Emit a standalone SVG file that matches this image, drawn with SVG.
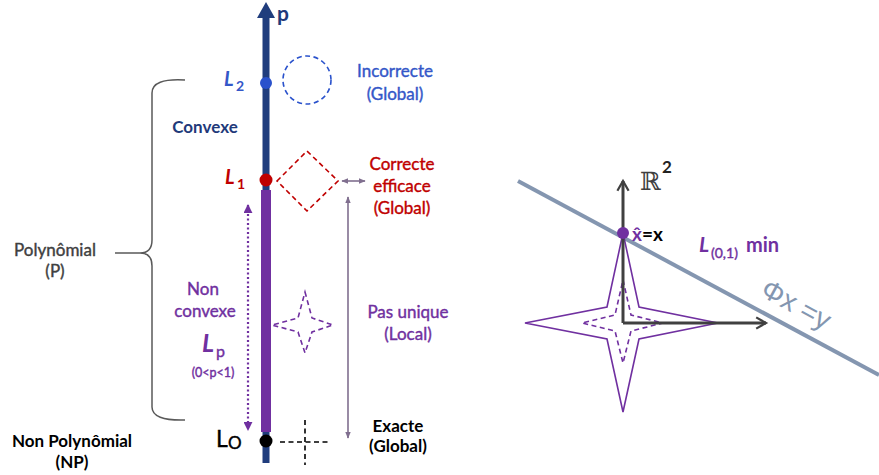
<svg xmlns="http://www.w3.org/2000/svg" width="879" height="475" viewBox="0 0 879 475">
<defs>
<style>
svg{font-family:Lato,"Open Sans","Liberation Sans",sans-serif;font-size:17px}
.b{font-weight:bold}
.c{text-anchor:middle}
.m{stroke:currentColor;stroke-width:0.4px}
.navy{fill:#1f3a7a;color:#1f3a7a}
.blue{fill:#3457c8;color:#3457c8}
.red{fill:#c00000;color:#c00000}
.pur{fill:#7030a0;color:#7030a0}
.gray{fill:#404040;color:#404040}
.dash{fill:none;stroke-width:1.6;stroke-dasharray:5,3.5}
</style>
<marker id="ga" viewBox="0 0 10 10" refX="9" refY="5" markerWidth="7" markerHeight="7" orient="auto-start-reverse" markerUnits="userSpaceOnUse"><path d="M0,1 L10,5 L0,9 Z" fill="#806f8f"/></marker>
<marker id="pa" viewBox="0 0 10 10" refX="9" refY="5" markerWidth="9" markerHeight="9" orient="auto-start-reverse" markerUnits="userSpaceOnUse"><path d="M0,0 L10,5 L0,10 Z" fill="#7030a0"/></marker>
<marker id="ka" viewBox="0 0 10 10" refX="8" refY="5" markerWidth="14" markerHeight="14" orient="auto" markerUnits="userSpaceOnUse"><path d="M1,1 L8,5 L1,9" fill="none" stroke="#404040" stroke-width="1.6"/></marker>
</defs>

<g id="brace">
<path d="M185,80 Q152,78 152,93 L152,240 Q152,253 140,253 L115,253 M140,253 Q152,253 152,266 L152,407 Q152,421 185,420" fill="none" stroke="#595959" stroke-width="1.5"/>
</g>

<g id="axis">
<line x1="266" y1="14" x2="266" y2="463" stroke="#203d7d" stroke-width="7"/>
<path d="M266,2 L275,18 L257,18 Z" fill="#203d7d"/>
<line x1="266" y1="190" x2="266" y2="432" stroke="#7030a0" stroke-width="10"/>
<text x="277" y="21" class="b navy" font-size="21">p</text>
</g>

<g id="L2">
<circle cx="266" cy="83" r="6" fill="#2a52cc"/>
<text x="224" y="86" class="b blue" font-style="italic" font-size="20">L</text>
<text x="236" y="91" class="b blue" font-size="14">2</text>
<circle cx="307" cy="80" r="24" class="dash" stroke="#2a52cc"/>
<text x="395" y="77" class="c blue m">Incorrecte</text>
<text x="395" y="100" class="c blue m">(Global)</text>
</g>

<g id="L1">
<circle cx="266" cy="180" r="6.5" fill="#c00000"/>
<text x="225" y="184" class="b red" font-style="italic" font-size="20">L</text>
<text x="237" y="189" class="b red" font-size="14">1</text>
<path d="M277,181 L307,151 L338,181 L307,211 Z" class="dash" stroke="#c00000"/>
<text x="402" y="170" class="c red m">Correcte</text>
<text x="402" y="192" class="c red m">efficace</text>
<text x="402" y="214" class="c red m">(Global)</text>
</g>

<g id="Lp">
<text x="203" y="295" class="c pur m">Non</text>
<text x="205" y="317" class="c pur m">convexe</text>
<text x="202" y="352" class="b pur" font-style="italic" font-size="25">L</text>
<text x="216" y="357" class="pur m" font-size="16">p</text>
<text x="213" y="377" class="c pur m" font-size="12.5">(0&lt;p&lt;1)</text>
<path d="M305,292 L312,318 L333,325 L312,332 L305,353 L298,332 L272,325 L298,318 Z" class="dash" stroke="#7030a0"/>
<text x="408" y="318" class="c pur m">Pas unique</text>
<text x="408" y="340" class="c pur m">(Local)</text>
</g>

<g id="L0">
<circle cx="266" cy="441" r="6.5" fill="#000"/>
<text x="216" y="447" font-size="23" class="m" color="#000">L</text>
<text x="228" y="449" font-size="17" class="m" color="#000">O</text>
<line x1="280" y1="442" x2="328" y2="442" class="dash" stroke="#000" stroke-width="1.5"/>
<line x1="305" y1="420" x2="305" y2="465" class="dash" stroke="#000" stroke-width="1.5"/>
<text x="398" y="432" class="c b">Exacte</text>
<text x="398" y="452" class="c b">(Global)</text>
</g>

<g id="classes">
<text x="55" y="256" class="c gray m">Polynômial</text>
<text x="55" y="277" class="c gray m">(P)</text>
<text x="72" y="447" class="c b">Non Polynômial</text>
<text x="72" y="468" class="c b">(NP)</text>
<text x="205" y="133" class="c b navy">Convexe</text>
</g>

<g id="connectors">
<line x1="342" y1="181" x2="365" y2="181" stroke="#806f8f" stroke-width="1.6" marker-start="url(#ga)" marker-end="url(#ga)"/>
<line x1="348" y1="197" x2="348" y2="438" stroke="#806f8f" stroke-width="1.6" marker-start="url(#ga)" marker-end="url(#ga)"/>
<line x1="248" y1="205" x2="248" y2="430" stroke="#7030a0" stroke-width="2.2" stroke-dasharray="2,2.5" marker-start="url(#pa)" marker-end="url(#pa)"/>
</g>

<g id="plane">
<line x1="518" y1="181" x2="879" y2="375" stroke="#8496b0" stroke-width="4"/>
<text x="0" y="0" transform="translate(759,295) rotate(28.5)" fill="#8496b0" font-size="28" font-family="'Liberation Sans',sans-serif">Φx =y</text>
<path d="M623,233 L639,307 L718,323 L639,339 L623,412 L607,339 L525,323 L607,307 Z" fill="none" stroke="#7030a0" stroke-width="1.6"/>
<path d="M623,280 L631,315 L663,323 L631,331 L623,363 L615,331 L582,323 L615,315 Z" class="dash" stroke="#7030a0" stroke-width="1.5"/>
<line x1="623" y1="323" x2="623" y2="181" stroke="#404040" stroke-width="3" marker-end="url(#ka)"/>
<line x1="623" y1="323" x2="766" y2="323" stroke="#404040" stroke-width="3" marker-end="url(#ka)"/>
<circle cx="623" cy="233" r="6" fill="#7030a0"/>
<text x="640" y="190" font-family="'DejaVu Serif',serif" font-size="25" fill="#404040">ℝ</text>
<text x="662" y="173" class="b" font-size="17" fill="#222">2</text>
<text x="632" y="241" class="b" font-size="19"><tspan class="pur">x̂</tspan>=x</text>
<text x="699" y="252" class="b pur" font-style="italic" font-size="21">L</text>
<text x="711" y="258" class="pur m" font-size="14">(0,1)</text>
<text x="746" y="252" class="b pur" font-size="20">min</text>
</g>
</svg>
